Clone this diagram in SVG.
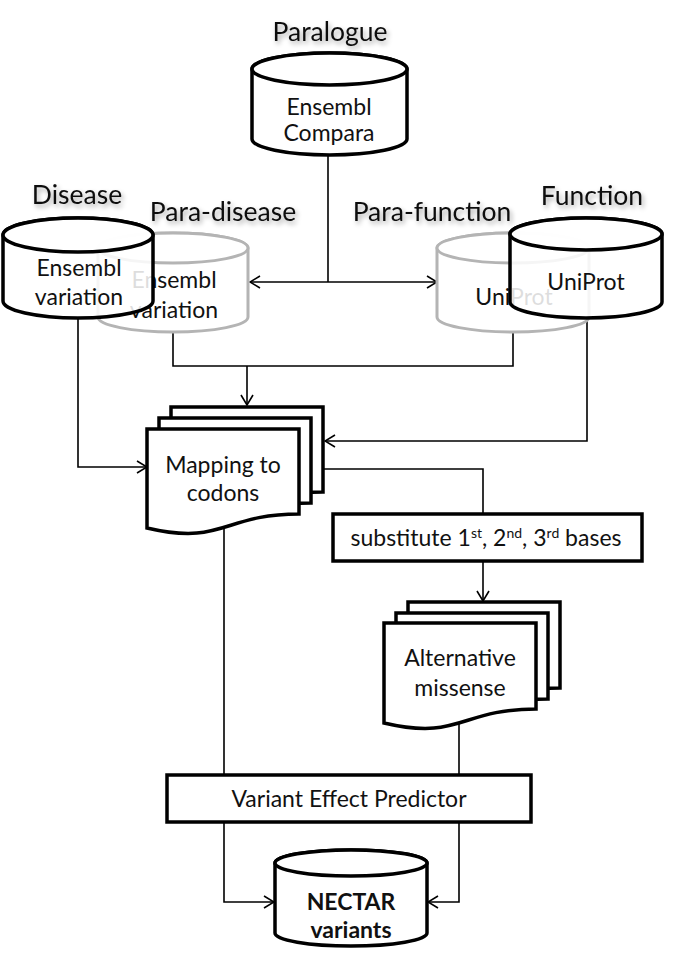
<svg xmlns="http://www.w3.org/2000/svg" width="676" height="954" viewBox="0 0 676 954">
<defs>
<style>
.lbl{font-family:Lato,"Open Sans","Liberation Sans",sans-serif;font-size:26.5px;fill:#111;text-anchor:middle;filter:url(#glow)}
.t{font-family:Lato,"Open Sans","Liberation Sans",sans-serif;font-size:23px;fill:#111;text-anchor:middle}
.cyl{fill:#fff;stroke:#000;stroke-width:3.5}
.cylT{fill:#fff;fill-opacity:0.86;stroke:#000;stroke-width:3.5}
.gcyl{fill:#fff;stroke:#b4b4b4;stroke-width:3}
.doc{fill:#fff;stroke:#000;stroke-width:3.5;stroke-linejoin:miter}
.box{fill:#fff;stroke:#000;stroke-width:3.5}
.con{fill:none;stroke:#000;stroke-width:1.6}
</style>
<filter id="glow" x="-20%" y="-40%" width="140%" height="180%">
<feGaussianBlur in="SourceAlpha" stdDeviation="2.5" result="b"/>
<feOffset in="b" dx="2" dy="3" result="o"/>
<feComponentTransfer in="o" result="s"><feFuncA type="linear" slope="0.35"/></feComponentTransfer>
<feMerge><feMergeNode in="s"/><feMergeNode in="SourceGraphic"/></feMerge>
</filter>
<marker id="arr" viewBox="0 0 12 14" refX="11" refY="7" markerWidth="12" markerHeight="14" markerUnits="userSpaceOnUse" orient="auto-start-reverse">
<path d="M1,1 L11,7 L1,13" fill="none" stroke="#000" stroke-width="1.6"/>
</marker>
</defs>

<!-- labels -->
<text class="lbl" x="330" y="41">Paralogue</text>
<text class="lbl" x="77" y="204">Disease</text>
<text class="lbl" x="223" y="221">Para-disease</text>
<text class="lbl" x="432" y="221">Para-function</text>
<text class="lbl" x="592" y="205">Function</text>

<!-- connectors -->
<g id="connectors">
<path class="con" d="M328,155 V282"/>
<path class="con" d="M250,282 H437" marker-start="url(#arr)" marker-end="url(#arr)"/>
<path class="con" d="M173,332 V366 H513 V332"/>
<path class="con" d="M247,366 V405" marker-end="url(#arr)"/>
<path class="con" d="M587,318 V441 H325" marker-end="url(#arr)"/>
<path class="con" d="M78,318 V467 H147" marker-end="url(#arr)"/>
<path class="con" d="M323,469 H483 V514"/>
<path class="con" d="M483,561 V601" marker-end="url(#arr)"/>
<path class="con" d="M224,528 V902 H274" marker-end="url(#arr)"/>
<path class="con" d="M459,716 V902 H428" marker-end="url(#arr)"/>
</g>

<g id="para-disease">
<path class="gcyl" d="M98,248 A75,15 0 0 1 248,248 V317 A75,15 0 0 1 98,317 Z"/>
<ellipse class="gcyl" cx="173" cy="248" rx="75" ry="15"/>
<text class="t" x="174" y="288">Ensembl</text>
<text class="t" x="174" y="318">variation</text>
</g>

<g id="para-function">
<path class="gcyl" d="M437,248 A76,15 0 0 1 589,248 V317 A76,15 0 0 1 437,317 Z"/>
<ellipse class="gcyl" cx="513" cy="248" rx="76" ry="15"/>
<text class="t" x="514" y="305">UniProt</text>
</g>

<g id="paralogue">
<path class="cyl" d="M252,69 A77.5,16 0 0 1 407,69 V139 A77.5,16 0 0 1 252,139 Z"/>
<ellipse class="cyl" cx="329.5" cy="69" rx="77.5" ry="16"/>
<text class="t" x="329" y="115">Ensembl</text>
<text class="t" x="329" y="141">Compara</text>
</g>

<g id="disease">
<path class="cylT" d="M3,235 A75,17 0 0 1 153,235 V301 A75,17 0 0 1 3,301 Z"/>
<ellipse class="cylT" cx="78" cy="235" rx="75" ry="17"/>
<text class="t" x="79" y="276">Ensembl</text>
<text class="t" x="79" y="305">variation</text>
</g>

<g id="function">
<path class="cylT" d="M510,234 A76,16 0 0 1 662,234 V302 A76,16 0 0 1 510,302 Z"/>
<ellipse class="cylT" cx="586" cy="234" rx="76" ry="16"/>
<text class="t" x="586" y="290">UniProt</text>
</g>

<g id="mapping">
<path class="doc" d="M171,407 H323 V492 C247,492 247,524 171,506 Z"/>
<path class="doc" d="M159,418 H311 V503 C235,503 235,535 159,517 Z"/>
<path class="doc" d="M147,429 H299 V514 C223,514 223,546 147,528 Z"/>
<text class="t" x="223" y="473">Mapping to</text>
<text class="t" x="223" y="501">codons</text>
</g>

<g id="substitute">
<rect class="box" x="333" y="514" width="309" height="47"/>
<text class="t" x="486" y="546">substitute 1<tspan font-size="14" dy="-8">st</tspan><tspan dy="8">, 2</tspan><tspan font-size="14" dy="-8">nd</tspan><tspan dy="8">, 3</tspan><tspan font-size="14" dy="-8">rd</tspan><tspan dy="8"> bases</tspan></text>
</g>

<g id="alternative">
<path class="doc" d="M408,602 H560 V688 C484,688 484,720 408,702 Z"/>
<path class="doc" d="M396,613 H548 V699 C472,699 472,731 396,713 Z"/>
<path class="doc" d="M384,623 H536 V709 C460,709 460,741 384,723 Z"/>
<text class="t" x="460" y="666">Alternative</text>
<text class="t" x="460" y="696">missense</text>
</g>

<g id="vep">
<rect class="box" x="167" y="775" width="364" height="47"/>
<text class="t" x="349" y="807">Variant Effect Predictor</text>
</g>

<g id="nectar">
<path class="cyl" d="M275,863 A76,13 0 0 1 427,863 V933 A76,13 0 0 1 275,933 Z"/>
<ellipse class="cyl" cx="351" cy="863" rx="76" ry="13"/>
<text class="t" x="351" y="910" font-weight="bold">NECTAR</text>
<text class="t" x="351" y="938" font-weight="bold">variants</text>
</g>
</svg>
